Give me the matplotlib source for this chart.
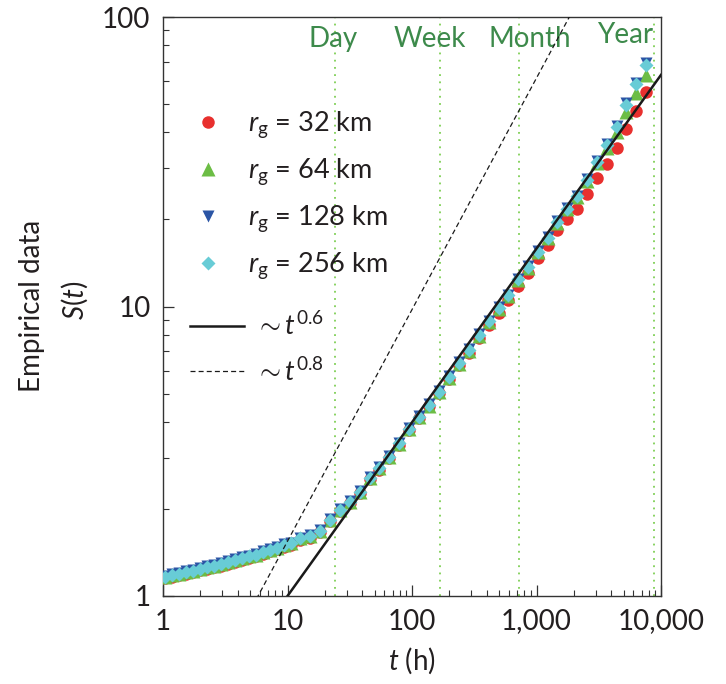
import matplotlib
matplotlib.use("Agg")
import matplotlib.pyplot as plt
from matplotlib.ticker import FixedLocator, FuncFormatter, LogLocator, NullFormatter

FONT = "Lato"
plt.rcParams["font.family"] = [FONT, "DejaVu Sans"]
plt.rcParams["mathtext.fontset"] = "custom"
plt.rcParams["mathtext.rm"] = FONT
plt.rcParams["mathtext.it"] = FONT + ":italic"
plt.rcParams["mathtext.bf"] = FONT + ":bold"

# ---- data ----
t_hours = [1.04, 1.18, 1.34, 1.53, 1.74, 1.98, 2.26, 2.57, 2.92, 3.33,
           3.79, 4.31, 4.91, 5.58, 6.36, 7.23, 8.23, 9.37, 10.7,
           12.6, 15.2, 18.2, 21.9, 26.4, 31.8, 38.2, 46.0, 54.3, 65.4,
           78.6, 94.6, 114, 137, 165, 198, 239, 287, 345, 416,
           500, 590, 710, 855, 1028, 1237, 1461, 1758, 2115, 2545,
           3062, 3684, 4432, 5235, 6298, 7578]

s_32 = [1.15, 1.16, 1.18, 1.19, 1.21, 1.23, 1.24, 1.26, 1.27, 1.29,
        1.31, 1.33, 1.35, 1.38, 1.40, 1.43, 1.45, 1.48, 1.50,
        1.56, 1.59, 1.66, 1.81, 1.96, 2.09, 2.26, 2.53, 2.73, 2.99,
        3.33, 3.73, 4.11, 4.52, 5.02, 5.64, 6.29, 6.91, 7.78, 8.60,
        9.49, 10.5, 11.8, 13.1, 14.7, 16.3, 18.4, 20.1, 21.7, 24.5,
        27.8, 31.1, 35.3, 41.0, 47.3, 55.1]

s_64 = [1.16, 1.18, 1.19, 1.21, 1.22, 1.24, 1.26, 1.27, 1.29, 1.31,
        1.33, 1.35, 1.37, 1.39, 1.42, 1.44, 1.47, 1.50, 1.52,
        1.58, 1.61, 1.68, 1.83, 1.98, 2.12, 2.29, 2.56, 2.76, 3.03,
        3.36, 3.77, 4.14, 4.55, 5.06, 5.68, 6.34, 7.04, 7.93, 8.84,
        9.83, 10.9, 12.3, 13.6, 15.4, 17.2, 19.5, 21.7, 23.8, 27.2,
        31.2, 35.2, 40.0, 47.1, 54.5, 63.0]

s_128 = [1.17, 1.19, 1.20, 1.22, 1.23, 1.25, 1.27, 1.28, 1.30, 1.32,
         1.34, 1.36, 1.38, 1.40, 1.43, 1.45, 1.48, 1.51, 1.53,
         1.59, 1.62, 1.69, 1.84, 1.99, 2.13, 2.30, 2.58, 2.78, 3.05,
         3.39, 3.80, 4.18, 4.60, 5.11, 5.74, 6.41, 7.12, 8.02, 8.93,
         9.94, 11.0, 12.4, 13.8, 15.5, 17.4, 19.7, 21.9, 24.1, 27.5,
         31.8, 36.3, 42.0, 50.3, 59.3, 69.5]

s_256 = [1.16, 1.18, 1.19, 1.21, 1.22, 1.24, 1.26, 1.27, 1.29, 1.31,
         1.33, 1.35, 1.37, 1.39, 1.42, 1.44, 1.47, 1.50, 1.52,
         1.58, 1.61, 1.68, 1.83, 1.98, 2.12, 2.29, 2.56, 2.76, 3.03,
         3.37, 3.78, 4.16, 4.57, 5.08, 5.71, 6.37, 7.08, 7.97, 8.88,
         9.88, 11.0, 12.4, 13.7, 15.4, 17.3, 19.6, 21.8, 24.0, 27.3,
         31.6, 36.0, 41.6, 49.7, 58.6, 68.3]

series_labels = [r"$r_{\rm g}$ = 32 km", r"$r_{\rm g}$ = 64 km",
                 r"$r_{\rm g}$ = 128 km", r"$r_{\rm g}$ = 256 km"]
series_values = [s_32, s_64, s_128, s_256]
series_colors = ["#e8302e", "#6cbd45", "#2b55a5", "#68ccd6"]
series_markers = ["o", "^", "v", "D"]
series_sizes = [9.0, 9.5, 8.5, 7.6]

# power-law guides: S = (t / t_unit) ** exponent
fit_exponents = [0.6, 0.8]
fit_t_unit = [10.0, 5.8]
fit_labels = [r"$\sim t^{0.6}$", r"$\sim t^{0.8}$"]

milestone_names = ["Day", "Week", "Month", "Year"]
milestone_hours = [24, 168, 720, 8760]
milestone_shift = [-2, -10, 11, -29]   # label offset from line, px
milestone_ypos = [0.948, 0.948, 0.948, 0.955]

x_ticks = [1, 10, 100, 1000, 10000]
y_ticks = [1, 10, 100]

TEXT = "#231f20"
GREEN_TXT = "#3d8a4b"
GREEN_LINE = "#7fcf55"

fig = plt.figure(figsize=(7.26, 6.84), dpi=100)
ax = fig.add_axes([163 / 726, 88 / 684, 498 / 726, 579 / 684])
ax.set_xscale("log")
ax.set_yscale("log")
ax.set_xlim(1, 10000)
ax.set_ylim(1, 100)

for h in milestone_hours:
    ax.axvline(h, color=GREEN_LINE, lw=1.3, ls=(0, (1, 3)), zorder=1)

for name, h, dx, yp in zip(milestone_names, milestone_hours, milestone_shift, milestone_ypos):
    ax.annotate(name, xy=(h, yp), xycoords=("data", "axes fraction"),
                xytext=(dx * 0.72, 0), textcoords="offset points",
                ha="center", va="baseline", fontsize=20, color=GREEN_TXT)

marker_handles = []
for vals, lab, col, mk, ms in zip(series_values, series_labels, series_colors,
                                  series_markers, series_sizes):
    h, = ax.plot(t_hours, vals, ls="none", marker=mk, ms=ms, color=col,
                 mec="none", label=lab, zorder=3)
    marker_handles.append(h)

t_line = [1, 10000]
line_handles = []
for expo, t0, lab, ls, lw in zip(fit_exponents, fit_t_unit, fit_labels,
                                 ["-", (0, (4, 2.5))], [1.8, 0.9]):
    s_line = [(t / t0) ** expo for t in t_line]
    h, = ax.plot(t_line, s_line, color="#1a1a1a", ls=ls, lw=lw, label=lab, zorder=4)
    line_handles.append(h)

leg1 = ax.legend(handles=marker_handles, loc="upper left",
                 bbox_to_anchor=(0.064, 0.84), frameon=False, fontsize=19.5,
                 handlelength=0.95, handletextpad=1.0, labelspacing=0.6,
                 borderpad=0, borderaxespad=0)
for txt in leg1.get_texts():
    txt.set_color(TEXT)
ax.add_artist(leg1)

leg2 = ax.legend(handles=line_handles, loc="upper left",
                 bbox_to_anchor=(0.054, 0.49), frameon=False, fontsize=19.5,
                 handlelength=2.0, handletextpad=0.4, labelspacing=0.66,
                 borderpad=0, borderaxespad=0)
for txt in leg2.get_texts():
    txt.set_color(TEXT)

ax.xaxis.set_major_locator(FixedLocator(x_ticks))
ax.xaxis.set_major_formatter(FuncFormatter(lambda v, p: f"{v:,.0f}"))
ax.yaxis.set_major_locator(FixedLocator(y_ticks))
ax.yaxis.set_major_formatter(FuncFormatter(lambda v, p: f"{v:.0f}"))
for axis in (ax.xaxis, ax.yaxis):
    axis.set_minor_locator(LogLocator(base=10, subs=range(2, 10)))
    axis.set_minor_formatter(NullFormatter())

ax.tick_params(which="both", direction="in", colors="#333333", labelcolor=TEXT,
               labelsize=20, top=False, right=False)
ax.tick_params(which="major", length=8, width=0.9)
ax.tick_params(which="minor", length=4, width=0.8)
ax.tick_params(axis="x", pad=9)
ax.tick_params(axis="y", pad=9)
for sp in ax.spines.values():
    sp.set_color("#333333")
    sp.set_linewidth(1.0)

ax.set_xlabel(r"$t$ (h)", fontsize=20, color=TEXT, labelpad=8)
fig.text(32 / 726, 1 - 306 / 684, "Empirical data", rotation=90,
         ha="center", va="center", fontsize=20, color=TEXT)
fig.text(75 / 726, 1 - 300 / 684, r"$S(t)$", rotation=90,
         ha="center", va="center", fontsize=20, color=TEXT)

fig.savefig("out.png", dpi=100)
